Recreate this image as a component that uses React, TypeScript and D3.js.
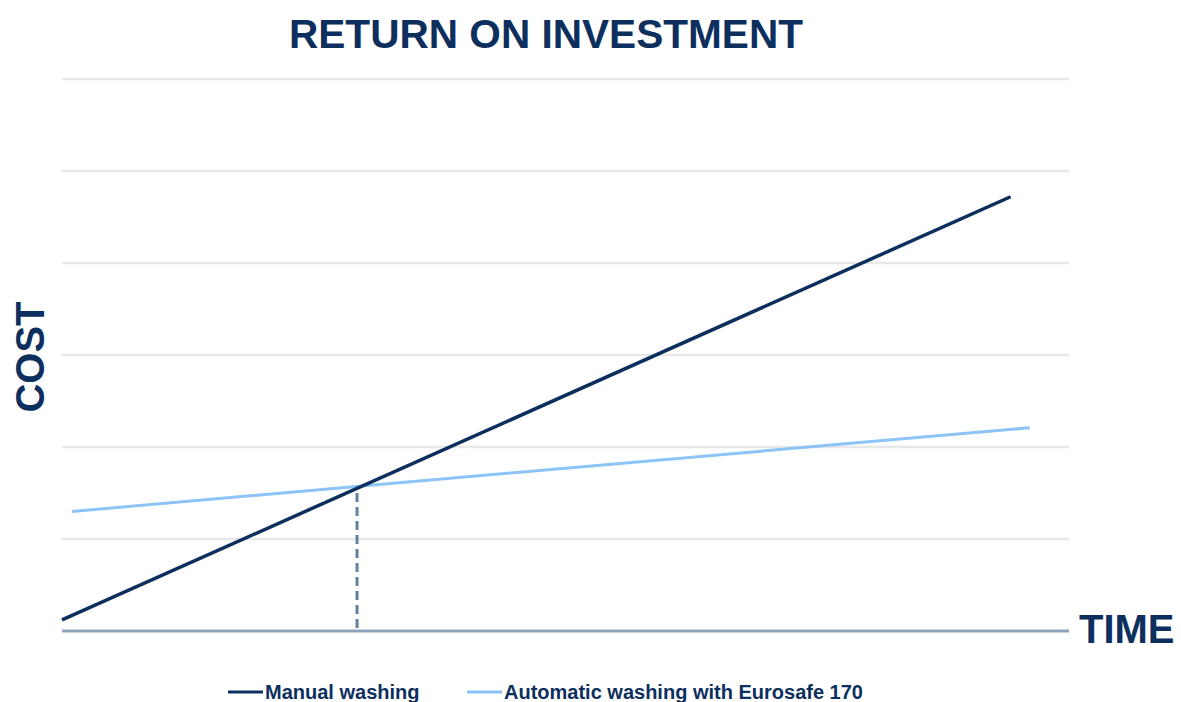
import * as d3 from 'd3'

// time runs 0..100 across the plot, cost 0..6 (one unit per gridline)
const seriesNames = ['Manual washing', 'Automatic washing with Eurosafe 170']
const manualTime = [0, 94.2]
const manualCost = [0.12, 4.72]
const autoTime = [1.0, 96.1]
const autoCost = [1.3, 2.21]
const gridTicks = [1, 2, 3, 4, 5, 6]
const breakevenTime = [29.3]
const breakevenCost = [1.57]

const navy = '#0d2f5e'
const lightBlue = '#8cc4f7'

export default function App() {
    const width = 1181
    const height = 702
    const x = d3.scaleLinear().domain([0, 100]).range([62, 1069])
    const y = d3.scaleLinear().domain([0, 6]).range([631, 79])

    const line = d3.line<[number, number]>().x(d => x(d[0])).y(d => y(d[1]))
    const manual = manualTime.map((t, i) => [t, manualCost[i]] as [number, number])
    const auto = autoTime.map((t, i) => [t, autoCost[i]] as [number, number])

    const font = '"Liberation Sans", Arial, sans-serif'

    return (
        <svg width={width} height={height} style={{ position: 'absolute', left: 0, top: 0, background: '#fff' }}>
            <text x={546} y={48} textAnchor="middle" fontFamily={font} fontWeight="bold" fontSize={40.6} fill={navy}>
                RETURN ON INVESTMENT
            </text>

            {gridTicks.map(t => (
                <line key={t} x1={x(0)} x2={x(100)} y1={y(t)} y2={y(t)} stroke="#e8e8e8" strokeWidth={2.5} />
            ))}

            <line x1={x(0)} x2={x(100)} y1={y(0)} y2={y(0)} stroke="#8fa2bb" strokeWidth={3} />

            {breakevenTime.map((t, i) => (
                <line key={i} x1={x(t)} x2={x(t)} y1={y(0) - 3} y2={y(breakevenCost[i])}
                    stroke="#62809f" strokeWidth={3} strokeDasharray="9 5" />
            ))}

            <path d={line(auto) ?? ''} fill="none" stroke={lightBlue} strokeWidth={3} />
            <path d={line(manual) ?? ''} fill="none" stroke={navy} strokeWidth={3.5} />

            <text transform={`translate(44,${357}) rotate(-90)`} textAnchor="middle" fontFamily={font}
                fontWeight="bold" fontSize={40} fill={navy}>COST</text>
            <text x={1079} y={643} fontFamily={font} fontWeight="bold" fontSize={40} fill={navy}>TIME</text>

            {seriesNames.map((name, i) => {
                const lx = i === 0 ? 228 : 467
                return (
                    <g key={name}>
                        <line x1={lx} x2={lx + 35} y1={692} y2={692} stroke={i === 0 ? navy : lightBlue} strokeWidth={3} />
                        <text x={lx + 37} y={699} fontFamily={font} fontWeight="bold" fontSize={20} fill={navy}>{name}</text>
                    </g>
                )
            })}
        </svg>
    )
}
